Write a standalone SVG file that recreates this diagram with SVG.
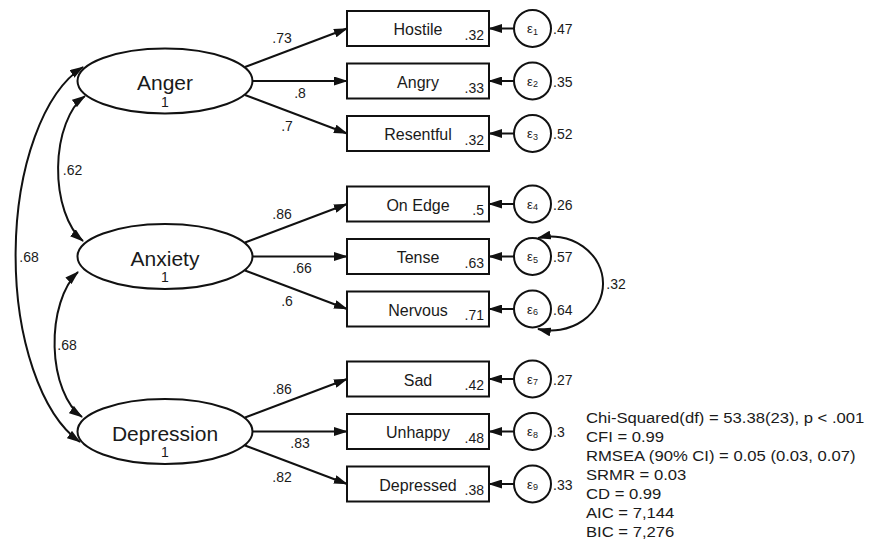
<svg xmlns="http://www.w3.org/2000/svg" width="869" height="552" viewBox="0 0 869 552">
<defs>
<marker id="ah" markerUnits="userSpaceOnUse" markerWidth="14" markerHeight="9" refX="13" refY="4.5" orient="auto-start-reverse" viewBox="0 0 14 9">
<path d="M0,0 L14,4.5 L0,9 Z" fill="#111"/>
</marker>
<style>
text{font-family:"Liberation Sans",Arial,sans-serif;fill:#1a1a1a}
.lat{fill:#fff;stroke:#111;stroke-width:2}
.box{fill:#fff;stroke:#111;stroke-width:2}
.err{fill:#fff;stroke:#111;stroke-width:2}
.c path{fill:none;stroke:#111;stroke-width:2}
.ln{font-size:21px;text-anchor:middle}
.one{font-size:14px;text-anchor:middle}
.bt{font-size:16px;text-anchor:middle}
.r2{font-size:14px;text-anchor:end}
.v{font-size:14px}
.e{font-size:13px;text-anchor:middle}
.es{font-size:9px}
.lab{font-size:14px;text-anchor:middle}
.st{font-size:15px}
</style>
</defs>
<rect width="869" height="552" fill="#fff"/>

<g id="connectors" class="c">
<!-- loadings -->
<path d="M245,67 L347,28.5" marker-end="url(#ah)"/>
<path d="M252,81 L347,81" marker-end="url(#ah)"/>
<path d="M245,95 L347,133.5" marker-end="url(#ah)"/>
<path d="M245,242.5 L347,204" marker-end="url(#ah)"/>
<path d="M252,256.5 L347,256.5" marker-end="url(#ah)"/>
<path d="M245,270.5 L347,309" marker-end="url(#ah)"/>
<path d="M245,417.5 L347,379" marker-end="url(#ah)"/>
<path d="M252,431.5 L347,431.5" marker-end="url(#ah)"/>
<path d="M245,445.5 L347,484" marker-end="url(#ah)"/>
<!-- residuals -->
<path d="M514,28.5 L489,28.5" marker-end="url(#ah)"/>
<path d="M514,81 L489,81" marker-end="url(#ah)"/>
<path d="M514,133.5 L489,133.5" marker-end="url(#ah)"/>
<path d="M514,204 L489,204" marker-end="url(#ah)"/>
<path d="M514,256.5 L489,256.5" marker-end="url(#ah)"/>
<path d="M514,309 L489,309" marker-end="url(#ah)"/>
<path d="M514,379 L489,379" marker-end="url(#ah)"/>
<path d="M514,431.5 L489,431.5" marker-end="url(#ah)"/>
<path d="M514,484 L489,484" marker-end="url(#ah)"/>
<!-- covariances -->
<path d="M85,96 A41,78 0 0,0 83,241" marker-start="url(#ah)" marker-end="url(#ah)"/>
<path d="M78,272 A42,79 0 0,0 82,417" marker-start="url(#ah)" marker-end="url(#ah)"/>
<path d="M83,67 A95,197 0 0,0 80,442" marker-start="url(#ah)" marker-end="url(#ah)"/>
<path d="M538,238 A52,47 0 1,1 538,329" marker-start="url(#ah)" marker-end="url(#ah)"/>
</g>

<g id="labels">
<text class="lab" x="282" y="43">.73</text>
<text class="lab" x="300" y="97.5">.8</text>
<text class="lab" x="287" y="131">.7</text>
<text class="lab" x="282" y="218.5">.86</text>
<text class="lab" x="302" y="273">.66</text>
<text class="lab" x="287" y="305.5">.6</text>
<text class="lab" x="282" y="393.5">.86</text>
<text class="lab" x="300" y="448">.83</text>
<text class="lab" x="282" y="481.5">.82</text>
<text class="lab" x="72.5" y="175">.62</text>
<text class="lab" x="67" y="350">.68</text>
<text class="lab" x="29" y="262">.68</text>
<text class="lab" x="616" y="288.5">.32</text>
</g>

<g id="anger">
<ellipse class="lat" cx="165" cy="81" rx="87.5" ry="32.5"/>
<text class="ln" x="165" y="90">Anger</text>
<text class="one" x="165" y="106.5">1</text>
</g>
<g id="anxiety">
<ellipse class="lat" cx="165" cy="256.5" rx="87.5" ry="32.5"/>
<text class="ln" x="165" y="265.5">Anxiety</text>
<text class="one" x="165" y="282">1</text>
</g>
<g id="depression">
<ellipse class="lat" cx="165" cy="431.5" rx="87.5" ry="32.5"/>
<text class="ln" x="165" y="440.5">Depression</text>
<text class="one" x="165" y="457">1</text>
</g>

<g id="hostile"><rect class="box" x="347" y="11" width="142" height="35"/><text class="bt" x="418" y="35">Hostile</text><text class="r2" x="484" y="40">.32</text></g>
<g id="angry"><rect class="box" x="347" y="63.5" width="142" height="35"/><text class="bt" x="418" y="87.5">Angry</text><text class="r2" x="484" y="92.5">.33</text></g>
<g id="resentful"><rect class="box" x="347" y="116" width="142" height="35"/><text class="bt" x="418" y="140">Resentful</text><text class="r2" x="484" y="145">.32</text></g>
<g id="onedge"><rect class="box" x="347" y="186.5" width="142" height="35"/><text class="bt" x="418" y="210.5">On Edge</text><text class="r2" x="484" y="215">.5</text></g>
<g id="tense"><rect class="box" x="347" y="239" width="142" height="35"/><text class="bt" x="418" y="263">Tense</text><text class="r2" x="484" y="267.5">.63</text></g>
<g id="nervous"><rect class="box" x="347" y="291.5" width="142" height="35"/><text class="bt" x="418" y="315.5">Nervous</text><text class="r2" x="484" y="320">.71</text></g>
<g id="sad"><rect class="box" x="347" y="361.5" width="142" height="35"/><text class="bt" x="418" y="385.5">Sad</text><text class="r2" x="484" y="390">.42</text></g>
<g id="unhappy"><rect class="box" x="347" y="414" width="142" height="35"/><text class="bt" x="418" y="438">Unhappy</text><text class="r2" x="484" y="442.5">.48</text></g>
<g id="depressed"><rect class="box" x="347" y="466.5" width="142" height="35"/><text class="bt" x="418" y="490.5">Depressed</text><text class="r2" x="484" y="495">.38</text></g>

<g id="e1"><circle class="err" cx="532.5" cy="28.5" r="18.5"/><text class="e" x="532.5" y="33">ε<tspan class="es" dy="1.5">1</tspan></text><text class="v" x="553" y="34">.47</text></g>
<g id="e2"><circle class="err" cx="532.5" cy="81" r="18.5"/><text class="e" x="532.5" y="85.5">ε<tspan class="es" dy="1.5">2</tspan></text><text class="v" x="553" y="86.5">.35</text></g>
<g id="e3"><circle class="err" cx="532.5" cy="133.5" r="18.5"/><text class="e" x="532.5" y="138">ε<tspan class="es" dy="1.5">3</tspan></text><text class="v" x="553" y="139">.52</text></g>
<g id="e4"><circle class="err" cx="532.5" cy="204" r="18.5"/><text class="e" x="532.5" y="208.5">ε<tspan class="es" dy="1.5">4</tspan></text><text class="v" x="553" y="209.5">.26</text></g>
<g id="e5"><circle class="err" cx="532.5" cy="256.5" r="18.5"/><text class="e" x="532.5" y="261">ε<tspan class="es" dy="1.5">5</tspan></text><text class="v" x="553" y="262">.57</text></g>
<g id="e6"><circle class="err" cx="532.5" cy="309" r="18.5"/><text class="e" x="532.5" y="313.5">ε<tspan class="es" dy="1.5">6</tspan></text><text class="v" x="553" y="314.5">.64</text></g>
<g id="e7"><circle class="err" cx="532.5" cy="379" r="18.5"/><text class="e" x="532.5" y="383.5">ε<tspan class="es" dy="1.5">7</tspan></text><text class="v" x="553" y="384.5">.27</text></g>
<g id="e8"><circle class="err" cx="532.5" cy="431.5" r="18.5"/><text class="e" x="532.5" y="436">ε<tspan class="es" dy="1.5">8</tspan></text><text class="v" x="553" y="437">.3</text></g>
<g id="e9"><circle class="err" cx="532.5" cy="484" r="18.5"/><text class="e" x="532.5" y="488.5">ε<tspan class="es" dy="1.5">9</tspan></text><text class="v" x="553" y="489.5">.33</text></g>

<g id="fit" transform="translate(586,0) scale(1.11,1)">
<text class="st" x="0" y="423">Chi-Squared(df) = 53.38(23), p &lt; .001</text>
<text class="st" x="0" y="442">CFI = 0.99</text>
<text class="st" x="0" y="461">RMSEA (90% CI) = 0.05 (0.03, 0.07)</text>
<text class="st" x="0" y="480">SRMR = 0.03</text>
<text class="st" x="0" y="499">CD = 0.99</text>
<text class="st" x="0" y="518">AIC = 7,144</text>
<text class="st" x="0" y="537">BIC = 7,276</text>
</g>
</svg>
